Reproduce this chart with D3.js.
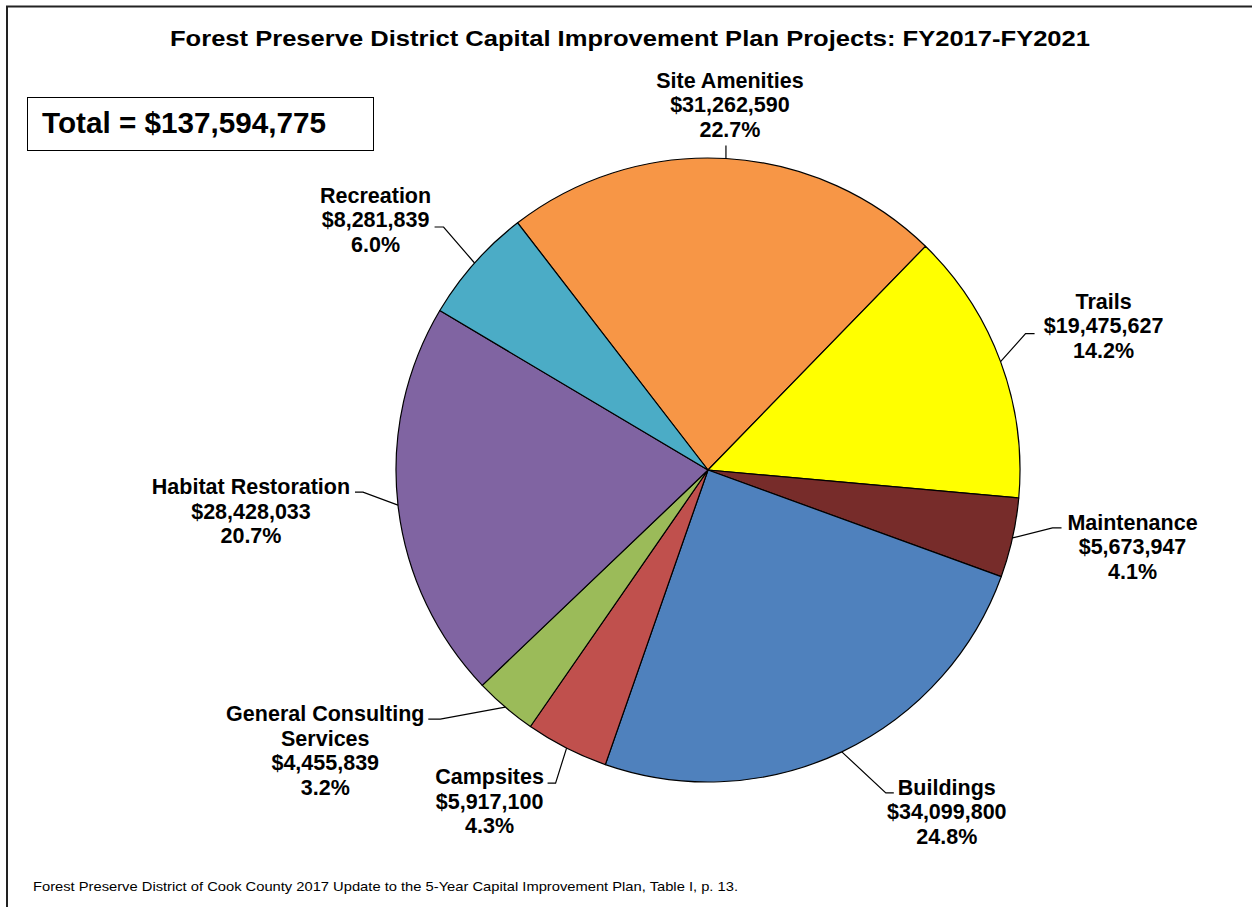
<!DOCTYPE html>
<html>
<head>
<meta charset="utf-8">
<script src="https://cdn.jsdelivr.net/npm/d3@7"></script>
<style>
body { margin: 0; background: #fff; }
text { font-family: "Liberation Sans", Arial, sans-serif; }
</style>
</head>
<body>
<svg id="chart" width="1252" height="907"></svg>
<script>
// data, clockwise from the orange slice
var categories = ["Site Amenities", "Trails", "Maintenance", "Buildings", "Campsites", "General Consulting Services", "Habitat Restoration", "Recreation"];
var values = [31262590, 19475627, 5673947, 34099800, 5917100, 4455839, 28428033, 8281839];
var colors = ["#F79646", "#FFFF00", "#772C2A", "#4F81BD", "#C0504D", "#9BBB59", "#8064A2", "#4BACC6"];
var nameLines = [["Site Amenities"], ["Trails"], ["Maintenance"], ["Buildings"], ["Campsites"], ["General Consulting", "Services"], ["Habitat Restoration"], ["Recreation"]];

var title = "Forest Preserve District Capital Improvement Plan Projects: FY2017-FY2021";
var source = "Forest Preserve District of Cook County 2017 Update to the 5-Year Capital Improvement Plan, Table I, p. 13.";

var svg = d3.select("#chart");
var cx = 708, cy = 470, radius = 312;
var total = d3.sum(values);
var fmtMoney = d3.format(",");
var fmtPct = d3.format(".1%");

// frame (only top and left edges show)
svg.append("path").attr("d", "M7,907V6.5H1252").attr("fill", "none").attr("stroke", "#222").attr("stroke-width", 2);

svg.append("text").attr("x", 630).attr("y", 46).attr("text-anchor", "middle")
    .attr("font-size", 22).attr("font-weight", "bold")
    .attr("textLength", 920).attr("lengthAdjust", "spacingAndGlyphs")
    .text(title);

// total box
svg.append("rect").attr("x", 27.5).attr("y", 97.5).attr("width", 346).attr("height", 53)
    .attr("fill", "#fff").attr("stroke", "#000").attr("stroke-width", 1);
svg.append("text").attr("x", 42).attr("y", 133).attr("font-size", 29).attr("font-weight", "bold")
    .attr("textLength", 284).attr("lengthAdjust", "spacingAndGlyphs")
    .text("Total = $" + fmtMoney(total));

var startA = -37.6 * Math.PI / 180;
var pie = d3.pie().sort(null).startAngle(startA).endAngle(startA + 2 * Math.PI);
var arcs = pie(values);
var arc = d3.arc().innerRadius(0).outerRadius(radius);
var edge = d3.arc().innerRadius(radius).outerRadius(radius);

var g = svg.append("g").attr("transform", "translate(" + cx + "," + cy + ")");
g.selectAll("path.slice").data(arcs).enter().append("path")
    .attr("class", "slice")
    .attr("d", arc)
    .attr("fill", function (d, i) { return colors[i]; })
    .attr("stroke", "#000").attr("stroke-width", 1.2).attr("stroke-linejoin", "round");

// label placement relative to the slice's edge point: text centre / first baseline, leader bend, leader end
var labelLayout = [
    { tx: 4, ty: -71, bend: [0, -13], end: null },
    { tx: 103, ty: -53, bend: [25, -28], end: 34 },
    { tx: 120, ty: -8, bend: [40, -10], end: 49 },
    { tx: 105, ty: 43, bend: [44, 41], end: 52 },
    { tx: -77, ty: 36, bend: [-11, 35], end: -19 },
    { tx: -180, ty: 14, bend: [-65, 12], end: -77 },
    { tx: -147, ty: -11, bend: [-35, -13], end: -43 },
    { tx: -99, ty: -60, bend: [-31, -36], end: -40 }
];
var lineH = 24.5;

arcs.forEach(function (d, i) {
    var p = edge.centroid(d);
    var ex = cx + p[0], ey = cy + p[1];
    var L = labelLayout[i];
    var pts = [[ex, ey], [ex + L.bend[0], ey + L.bend[1]]];
    if (L.end !== null) pts.push([ex + L.end, ey + L.bend[1]]);
    svg.append("path").attr("d", d3.line()(pts)).attr("fill", "none")
        .attr("stroke", "#000").attr("stroke-width", 1.2);

    var lines = nameLines[i].concat(["$" + fmtMoney(values[i]), fmtPct(values[i] / total)]);
    var t = svg.append("text").attr("text-anchor", "middle")
        .attr("font-size", 21.5).attr("font-weight", "bold").attr("fill", "#000");
    lines.forEach(function (s, k) {
        t.append("tspan").attr("x", ex + L.tx).attr("y", ey + L.ty + k * lineH).text(s);
    });
});

svg.append("text").attr("x", 33).attr("y", 891).attr("font-size", 13)
    .attr("textLength", 705).attr("lengthAdjust", "spacingAndGlyphs")
    .text(source);
</script>
</body>
</html>
